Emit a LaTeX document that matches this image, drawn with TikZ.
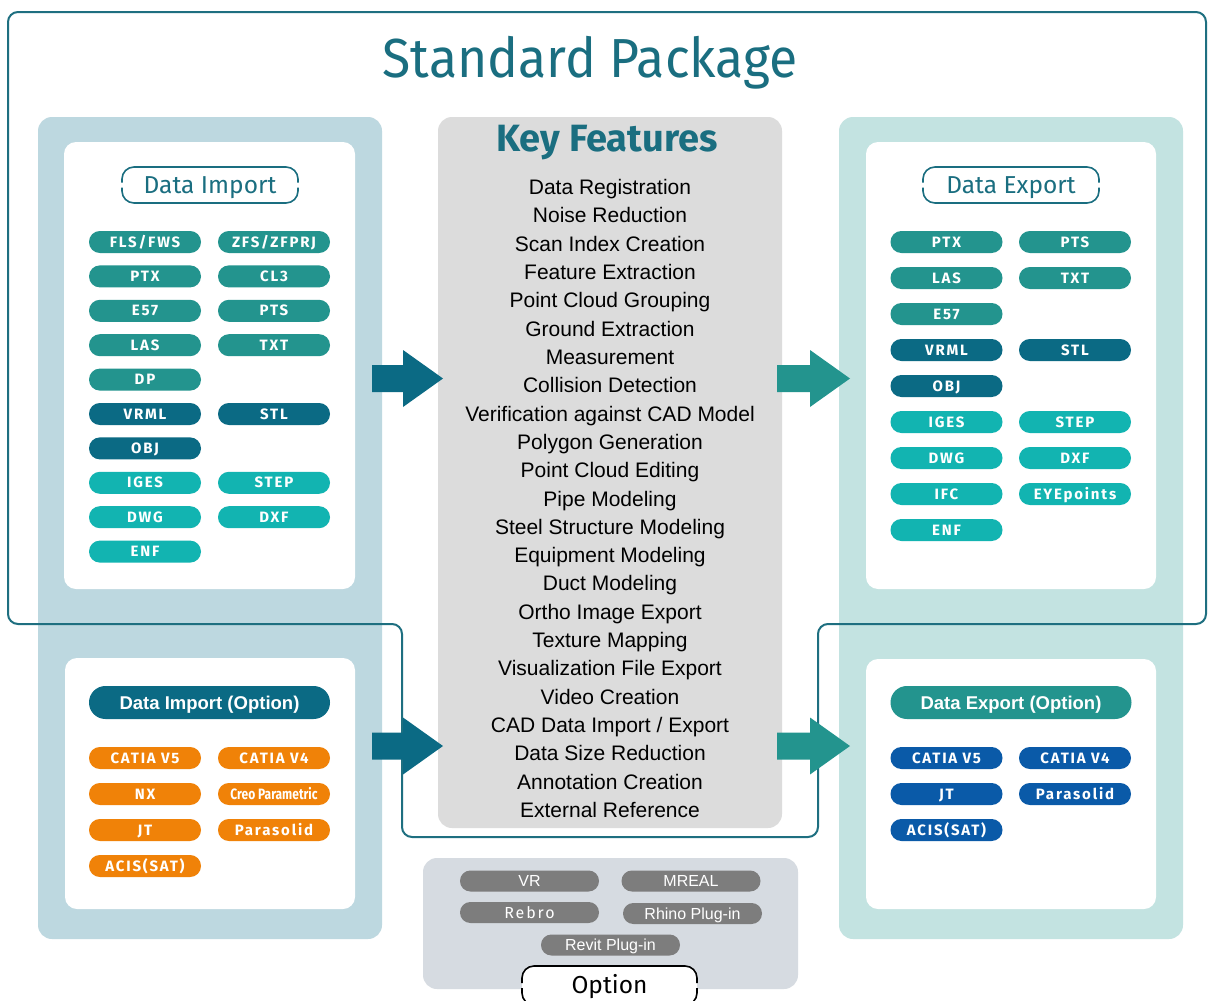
\documentclass[tikz,border=0pt]{standalone}
\usepackage{fontspec}
\setmainfont{Liberation Sans}
\newfontfamily\fira{Fira Sans}
\newfontfamily\pillf[LetterSpace=12]{Fira Sans}
\usetikzlibrary{calc}
\definecolor{ttl}{RGB}{26,110,128}
\definecolor{lineC}{RGB}{30,111,128}
\definecolor{impbg}{RGB}{189,216,224}
\definecolor{expbg}{RGB}{195,227,225}
\definecolor{keybg}{RGB}{220,220,220}
\definecolor{optbg}{RGB}{214,219,225}
\definecolor{pteal}{RGB}{35,148,142}
\definecolor{pdark}{RGB}{11,106,132}
\definecolor{pcyan}{RGB}{18,180,177}
\definecolor{porange}{RGB}{240,130,8}
\definecolor{pblue}{RGB}{10,90,168}
\definecolor{pgray}{RGB}{125,125,125}
\tikzset{
  panel/.style={rounded corners=14, inner sep=0, draw=none},
  wbox/.style={rounded corners=12, inner sep=0, draw=none, fill=white},
  pill/.style={rounded corners=10.9, minimum width=112, minimum height=22, inner sep=0,
    text=white, font=\pillf\bfseries\fontsize{15}{15}\selectfont, text height=10.3pt, text depth=0pt},
  gpill/.style={rounded corners=10.4, minimum width=139, minimum height=21, inner sep=0,
    fill=pgray, text=white, font=\fontsize{16}{16}\selectfont, text height=11.5pt, text depth=0pt},
  optlbl/.style={rounded corners=16.4, minimum width=241, minimum height=33, inner sep=0,
    text=white, font=\bfseries\fontsize{18.5}{18.5}\selectfont, text height=13.2pt, text depth=0pt},
  feat/.style={anchor=base, inner sep=0, font=\fontsize{21}{21}\selectfont, text=black},
  lbltext/.style={inner sep=0, font=\fira\fontsize{24.5}{24.5}\selectfont, text height=16.9pt, text depth=0pt},
}
% broken pill outline: name, cx, cy, w, h, colour
\newcommand{\brokenpill}[6]{%
  \draw[#6, line width=1.6, rounded corners=12]
    ({#2-#4/2},{#3-2.5}) -- ({#2-#4/2},{#3-#5/2}) -- ({#2+#4/2},{#3-#5/2}) -- ({#2+#4/2},{#3-2.5});
  \draw[#6, line width=1.6, rounded corners=12]
    ({#2-#4/2},{#3+2.5}) -- ({#2-#4/2},{#3+#5/2}) -- ({#2+#4/2},{#3+#5/2}) -- ({#2+#4/2},{#3+2.5});
}
\newcommand{\barrow}[4]{% tail x, tip x, centre y, colour
  \fill[#4] ({#1},{#3-13.5}) -- ({#2-40},{#3-13.5}) -- ({#2-40},{#3-28.5}) -- ({#2},{#3})
    -- ({#2-40},{#3+28.5}) -- ({#2-40},{#3+13.5}) -- ({#1},{#3+13.5}) -- cycle;
}
\begin{document}
\begin{tikzpicture}[x=1pt,y=-1pt]
\useasboundingbox (0,0) rectangle (1208,1001);
\fill[white] (0,0) rectangle (1208,1001);

% panels
\node[panel, fill=impbg, minimum width=344, minimum height=822] (imp) at (210,528) {};
\node[panel, fill=expbg, minimum width=344, minimum height=822] (exp) at (1011,528) {};
\node[panel, fill=keybg, minimum width=344, minimum height=711] (key) at (610,472.5) {};
\node[panel, fill=optbg, minimum width=375, minimum height=131] (opt) at (610.5,923.5) {};

\node[wbox, minimum width=291, minimum height=447] (impw) at (209.5,365.5) {};
\node[wbox, minimum width=290, minimum height=251] (impo) at (210,783.5) {};
\node[wbox, minimum width=290, minimum height=447] (expw) at (1011,365.5) {};
\node[wbox, minimum width=290, minimum height=250] (expo) at (1011,784) {};

% standard package outline
\draw[lineC, line width=2, rounded corners=10]
  (402,624) -- (8,624) -- (8,12) -- (1206,12) -- (1206,624) -- (818,624)
  -- (818,837) -- (402,837) -- cycle;

% block arrows
\barrow{372}{443}{378.5}{pdark}
\barrow{372}{443}{746}{pdark}
\barrow{777}{850}{378.5}{pteal}
\barrow{777}{850}{746}{pteal}

% title
\node[inner sep=0, text=ttl, font=\fira\fontsize{55}{55}\selectfont, xscale=0.94] (title) at (590,63) {Standard Package};

% key features
\node[inner sep=0, text=ttl, font=\fira\bfseries\fontsize{38}{38}\selectfont] (kf) at (607,143) {Key Features};
\foreach \t [count=\i] in {Data Registration, Noise Reduction, Scan Index Creation, Feature Extraction,
  Point Cloud Grouping, Ground Extraction, Measurement, Collision Detection,
  Verification against CAD Model, Polygon Generation, Point Cloud Editing, Pipe Modeling,
  Steel Structure Modeling, Equipment Modeling, Duct Modeling, Ortho Image Export,
  Texture Mapping, Visualization File Export, Video Creation, CAD Data Import / Export,
  Data Size Reduction, Annotation Creation, External Reference}
  \node[feat] (f\i) at (610,{194.5+(\i-1)*28.32}) {\t};

% data import / export labels
\node[lbltext, text=ttl] (dil) at (210,185) {Data Import};
\brokenpill{dil}{210}{185}{176}{36}{ttl}
\node[lbltext, text=ttl] (del) at (1011,185) {Data Export};
\brokenpill{del}{1011}{185}{176}{36}{ttl}

% import pills
\node[pill, fill=pteal] (i1) at (145,242) {FLS/FWS};
\node[pill, fill=pteal] (i2) at (274,242) {ZFS/ZFPRJ};
\node[pill, fill=pteal] (i3) at (145,276.4) {PTX};
\node[pill, fill=pteal] (i4) at (274,276.4) {CL3};
\node[pill, fill=pteal] (i5) at (145,310.8) {E57};
\node[pill, fill=pteal] (i6) at (274,310.8) {PTS};
\node[pill, fill=pteal] (i7) at (145,345.2) {LAS};
\node[pill, fill=pteal] (i8) at (274,345.2) {TXT};
\node[pill, fill=pteal] (i9) at (145,379.6) {DP};
\node[pill, fill=pdark] (i10) at (145,414) {VRML};
\node[pill, fill=pdark] (i11) at (274,414) {STL};
\node[pill, fill=pdark] (i12) at (145,448.4) {OBJ};
\node[pill, fill=pcyan] (i13) at (145,482.8) {IGES};
\node[pill, fill=pcyan] (i14) at (274,482.8) {STEP};
\node[pill, fill=pcyan] (i15) at (145,517.2) {DWG};
\node[pill, fill=pcyan] (i16) at (274,517.2) {DXF};
\node[pill, fill=pcyan] (i17) at (145,551.6) {ENF};

% export pills
\node[pill, fill=pteal] (e1) at (946.5,242) {PTX};
\node[pill, fill=pteal] (e2) at (1075,242) {PTS};
\node[pill, fill=pteal] (e3) at (946.5,278) {LAS};
\node[pill, fill=pteal] (e4) at (1075,278) {TXT};
\node[pill, fill=pteal] (e5) at (946.5,314) {E57};
\node[pill, fill=pdark] (e6) at (946.5,350) {VRML};
\node[pill, fill=pdark] (e7) at (1075,350) {STL};
\node[pill, fill=pdark] (e8) at (946.5,386) {OBJ};
\node[pill, fill=pcyan] (e9) at (946.5,422) {IGES};
\node[pill, fill=pcyan] (e10) at (1075,422) {STEP};
\node[pill, fill=pcyan] (e11) at (946.5,458) {DWG};
\node[pill, fill=pcyan] (e12) at (1075,458) {DXF};
\node[pill, fill=pcyan] (e13) at (946.5,494) {IFC};
\node[pill, fill=pcyan] (e14) at (1075,494) {EYEpoints};
\node[pill, fill=pcyan] (e15) at (946.5,530) {ENF};

% import option
\node[optlbl, fill=pdark] (dio) at (209.5,702.5) {Data Import (Option)};
\node[pill, fill=porange] (o1) at (145,758) {CATIA V5};
\node[pill, fill=porange] (o2) at (274,758) {CATIA V4};
\node[pill, fill=porange] (o3) at (145,794) {NX};
\node[pill, fill=porange, font=\fira\bfseries\fontsize{15}{15}\selectfont] (o4) at (274,794) {\scalebox{0.8}[1]{Creo Parametric}};
\node[pill, fill=porange] (o5) at (145,830) {JT};
\node[pill, fill=porange] (o6) at (274,830) {Parasolid};
\node[pill, fill=porange] (o7) at (145,866) {ACIS(SAT)};

% export option
\node[optlbl, fill=pteal] (deo) at (1011,702.5) {Data Export (Option)};
\node[pill, fill=pblue] (b1) at (946.5,758) {CATIA V5};
\node[pill, fill=pblue] (b2) at (1075,758) {CATIA V4};
\node[pill, fill=pblue] (b3) at (946.5,794) {JT};
\node[pill, fill=pblue] (b4) at (1075,794) {Parasolid};
\node[pill, fill=pblue] (b5) at (946.5,830) {ACIS(SAT)};

% option box
\node[gpill] (g1) at (529.5,881) {VR};
\node[gpill] (g2) at (691,881) {MREAL};
\node[gpill, font=\pillf\fontsize{16}{16}\selectfont] (g3) at (529.5,912.5) {Rebro};
\node[gpill] (g4) at (692.5,913.5) {Rhino Plug-in};
\node[gpill] (g5) at (610.5,945) {Revit Plug-in};

\fill[white, rounded corners=12] (522,966) rectangle (697,1005);
\node[lbltext, text=black] (optl) at (609.5,985.5) {Option};
\brokenpill{optl}{609.5}{985.5}{175}{39}{black}
\end{tikzpicture}
\end{document}
